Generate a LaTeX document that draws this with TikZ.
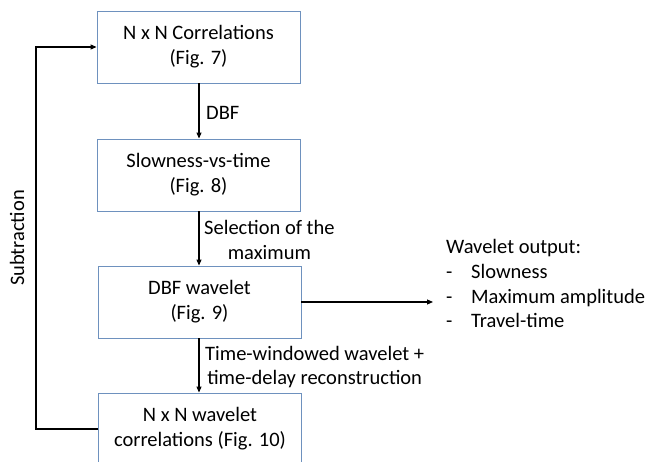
\documentclass[tikz,border=0pt]{standalone}
\usepackage{fontspec}
\setmainfont{Carlito}
\usetikzlibrary{arrows.meta}
\definecolor{boxborder}{RGB}{110,145,190}
\begin{document}
\begin{tikzpicture}[x=1pt,y=-1pt,
  every node/.style={font=\fontsize{20.5}{24.8}\selectfont, inner sep=0pt},
  procbox/.style={draw=boxborder, line width=0.9pt, minimum width=203pt, minimum height=72pt, align=center},
  flow/.style={draw=black, line width=1.1pt, -{Triangle[length=6pt,width=5pt]}},
  lbl/.style={align=center, anchor=west}]
\useasboundingbox (0,0) rectangle (646,462);
\node[procbox] (b1) at (198.5,47) {N x N Correlations\\(Fig. 7)};
\node[procbox] (b2) at (198.5,175) {Slowness-vs-time\\(Fig. 8)};
\node[procbox] (b3) at (199.5,302) {DBF wavelet\\(Fig. 9)};
\node[procbox] (b4) at (200,429) {N x N wavelet\\correlations (Fig. 10)};
\draw[flow] (b1.south -| 199,0) -- (b2.north -| 199,0);
\draw[flow] (b2.south -| 199,0) -- (b3.north -| 199,0);
\draw[flow] (b3.south -| 199,0) -- (b4.north -| 199,0);
\node[lbl] (l1) at (206,113) {DBF};
\node[lbl] (l2) at (204,240) {Selection of the\\maximum};
\node[lbl] (l3) at (205,367) {Time-windowed wavelet +\\time-delay reconstruction};
\coordinate (fb) at (36,429);
\draw[flow] (b4.west) -- (fb) |- (b1.west);
\node[rotate=90] (sub) at (17,238) {Subtraction};
\coordinate (outend) at (433,302);
\draw[flow] (b3.east) -- (outend);
\node[anchor=base west, align=left] (out) at (446,328) {Wavelet output:\\
\makebox[25pt][l]{-}Slowness\\
\makebox[25pt][l]{-}Maximum amplitude\\
\makebox[25pt][l]{-}Travel-time};
\end{tikzpicture}
\end{document}
